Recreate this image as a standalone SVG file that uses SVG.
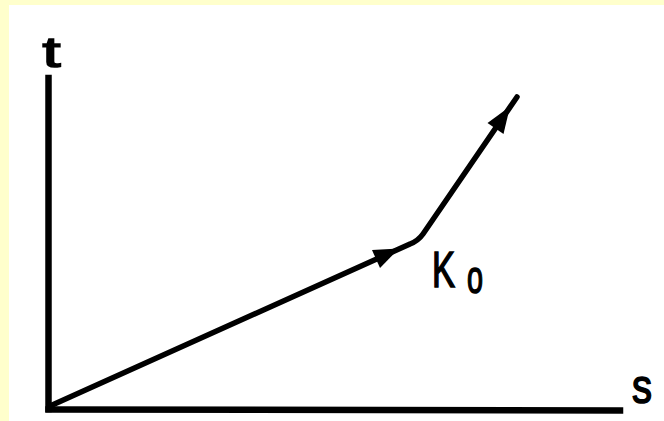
<svg xmlns="http://www.w3.org/2000/svg" width="664" height="421" viewBox="0 0 664 421">
<style>
.ax{stroke:#000;stroke-width:6.5;fill:none;stroke-linecap:square}
.ln{stroke:#000;stroke-width:5.5;fill:none;stroke-linejoin:round;stroke-linecap:round}
.hd{fill:#000}
.lb{font-family:"Liberation Sans",Arial,sans-serif;fill:#000;stroke:#000;stroke-width:1.6}
</style>
<rect x="0" y="0" width="664" height="421" fill="#FFFFCC"/>
<rect x="9" y="5" width="655" height="416" fill="#FFFFFF"/>
<g id="axes">
<line class="ax" x1="48.5" y1="78" x2="48.5" y2="409"/>
<line class="ax" x1="48.5" y1="409.5" x2="620" y2="410.5"/>
<text class="lb" x="42.5" y="67" font-size="42" textLength="18" lengthAdjust="spacingAndGlyphs">t</text>
<text class="lb" x="632" y="403" font-size="48" textLength="20" lengthAdjust="spacingAndGlyphs">s</text>
</g>
<g id="connectors">
<path class="ln" d="M50,406 L410,244 Q418,241 423,234 L517,97"/>
<polygon class="hd" points="399,248.5 380,268 372,250"/>
<polygon class="hd" points="510,106.5 503.5,134 487.5,123"/>
</g>
<g id="K0">
<text class="lb" x="432" y="287" font-size="50" textLength="23" lengthAdjust="spacingAndGlyphs">K</text>
<text class="lb" x="467" y="293" font-size="46" textLength="16" lengthAdjust="spacingAndGlyphs">o</text>
</g>
</svg>
